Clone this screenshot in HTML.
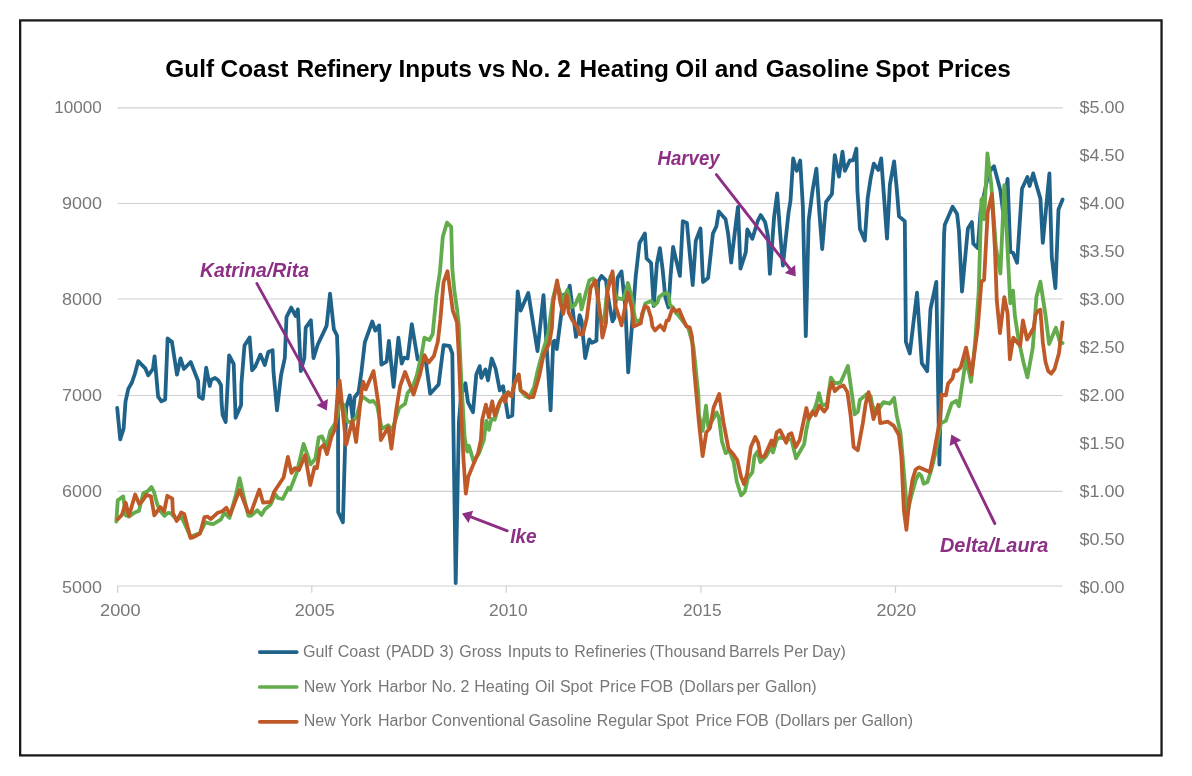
<!DOCTYPE html>
<html lang="en"><head><meta charset="utf-8"><title>Gulf Coast Refinery Inputs vs No. 2 Heating Oil and Gasoline Spot Prices</title>
<style>
html,body{margin:0;padding:0;background:#fff;}
body{width:1192px;height:776px;overflow:hidden;}
svg{display:block;font-family:"Liberation Sans",sans-serif;}
.ax{fill:#787878;font-size:16.6px;}
.lg{fill:#777;font-size:16px;}
.an{fill:#8c2f85;font-size:19.8px;font-weight:bold;font-style:italic;}
.ttl{fill:#000;font-size:24.4px;font-weight:bold;}
.ser{fill:none;stroke-width:3.8;stroke-linejoin:round;stroke-linecap:round;}
</style></head><body>
<svg width="1192" height="776" viewBox="0 0 1192 776">
<rect x="0" y="0" width="1192" height="776" fill="#fff"/>
<rect x="20.15" y="20.4" width="1141.4" height="735.0" fill="none" stroke="#1a1a1a" stroke-width="2.3"/>
<text class="ttl" y="76.6"><tspan x="165.3">Gulf </tspan><tspan x="220.6">Coast </tspan><tspan x="296.5" letter-spacing="-0.3">Refinery </tspan><tspan x="398.6">Inputs </tspan><tspan x="478.3">vs </tspan><tspan x="510.9">No. </tspan><tspan x="557.3">2 </tspan><tspan x="579.5">Heating </tspan><tspan x="675.3">Oil </tspan><tspan x="714.7">and </tspan><tspan x="765.7">Gasoline </tspan><tspan x="875.2">Spot </tspan><tspan x="937.7">Prices</tspan></text>
<line x1="117.6" x2="1062.6" y1="107.95" y2="107.95" stroke="#cfcfcf" stroke-width="1.2"/>
<line x1="117.6" x2="1062.6" y1="203.50" y2="203.50" stroke="#cfcfcf" stroke-width="1.2"/>
<line x1="117.6" x2="1062.6" y1="299.00" y2="299.00" stroke="#cfcfcf" stroke-width="1.2"/>
<line x1="117.6" x2="1062.6" y1="395.50" y2="395.50" stroke="#cfcfcf" stroke-width="1.2"/>
<line x1="117.6" x2="1062.6" y1="491.40" y2="491.40" stroke="#cfcfcf" stroke-width="1.2"/>
<line x1="117.0" x2="1062.6" y1="586.0" y2="586.0" stroke="#cfcfcf" stroke-width="1.2"/>
<line x1="117.7" x2="117.7" y1="586.0" y2="592.8" stroke="#cfcfcf" stroke-width="1.2"/>
<line x1="311.8" x2="311.8" y1="586.0" y2="592.8" stroke="#cfcfcf" stroke-width="1.2"/>
<line x1="506.2" x2="506.2" y1="586.0" y2="592.8" stroke="#cfcfcf" stroke-width="1.2"/>
<line x1="700.9" x2="700.9" y1="586.0" y2="592.8" stroke="#cfcfcf" stroke-width="1.2"/>
<line x1="895.5" x2="895.5" y1="586.0" y2="592.8" stroke="#cfcfcf" stroke-width="1.2"/>
<text class="ax" x="54.3" y="112.8" textLength="47.6" lengthAdjust="spacingAndGlyphs">10000</text>
<text class="ax" x="61.9" y="208.8" textLength="40.0" lengthAdjust="spacingAndGlyphs">9000</text>
<text class="ax" x="61.9" y="304.9" textLength="40.0" lengthAdjust="spacingAndGlyphs">8000</text>
<text class="ax" x="61.9" y="400.9" textLength="40.0" lengthAdjust="spacingAndGlyphs">7000</text>
<text class="ax" x="61.9" y="497.0" textLength="40.0" lengthAdjust="spacingAndGlyphs">6000</text>
<text class="ax" x="61.9" y="593.0" textLength="40.0" lengthAdjust="spacingAndGlyphs">5000</text>
<text class="ax" x="1079.6" y="112.8" textLength="45.0" lengthAdjust="spacingAndGlyphs">$5.00</text>
<text class="ax" x="1079.6" y="160.8" textLength="45.0" lengthAdjust="spacingAndGlyphs">$4.50</text>
<text class="ax" x="1079.6" y="208.8" textLength="45.0" lengthAdjust="spacingAndGlyphs">$4.00</text>
<text class="ax" x="1079.6" y="256.9" textLength="45.0" lengthAdjust="spacingAndGlyphs">$3.50</text>
<text class="ax" x="1079.6" y="304.9" textLength="45.0" lengthAdjust="spacingAndGlyphs">$3.00</text>
<text class="ax" x="1079.6" y="352.9" textLength="45.0" lengthAdjust="spacingAndGlyphs">$2.50</text>
<text class="ax" x="1079.6" y="400.9" textLength="45.0" lengthAdjust="spacingAndGlyphs">$2.00</text>
<text class="ax" x="1079.6" y="448.9" textLength="45.0" lengthAdjust="spacingAndGlyphs">$1.50</text>
<text class="ax" x="1079.6" y="497.0" textLength="45.0" lengthAdjust="spacingAndGlyphs">$1.00</text>
<text class="ax" x="1079.6" y="545.0" textLength="45.0" lengthAdjust="spacingAndGlyphs">$0.50</text>
<text class="ax" x="1079.6" y="593.0" textLength="45.0" lengthAdjust="spacingAndGlyphs">$0.00</text>
<text class="ax" x="100.1" y="616.2" textLength="40.5" lengthAdjust="spacingAndGlyphs">2000</text>
<text class="ax" x="294.7" y="616.2" textLength="40.1" lengthAdjust="spacingAndGlyphs">2005</text>
<text class="ax" x="489.1" y="616.2" textLength="38.5" lengthAdjust="spacingAndGlyphs">2010</text>
<text class="ax" x="683.1" y="616.2" textLength="38.5" lengthAdjust="spacingAndGlyphs">2015</text>
<text class="ax" x="876.5" y="616.2" textLength="39.8" lengthAdjust="spacingAndGlyphs">2020</text>
<path class="ser" stroke="#20638a" d="M117.2 408.0 L120.2 439.3 L123.6 428.6 L125.5 401.7 L128.3 388.9 L131.9 382.5 L135.0 373.3 L138.2 361.2 L145.3 368.3 L148.2 375.4 L152.9 369.0 L154.6 356.3 L158.1 396.7 L161.4 401.4 L165.2 399.5 L167.6 338.5 L171.9 341.8 L177.0 374.7 L180.5 358.4 L183.9 369.0 L190.7 362.0 L198.1 381.0 L198.9 396.5 L202.8 398.8 L206.2 367.6 L209.7 386.0 L211.3 379.8 L215.1 377.9 L218.2 380.3 L221.0 384.9 L221.6 402.7 L222.6 415.0 L225.7 422.0 L229.1 355.5 L233.7 364.0 L235.6 417.8 L241.1 405.0 L241.4 384.1 L244.5 345.5 L249.6 337.4 L252.1 370.3 L255.2 366.8 L260.4 354.6 L264.8 365.0 L268.3 352.0 L272.6 350.3 L273.5 372.0 L277.0 410.3 L281.0 375.5 L284.8 358.1 L286.5 317.2 L291.2 307.6 L295.6 316.0 L297.9 309.4 L300.8 371.1 L304.3 358.1 L305.7 327.6 L310.9 320.3 L313.5 358.1 L317.9 344.2 L326.6 325.9 L330.0 293.7 L333.9 329.4 L337.0 335.5 L337.9 359.8 L338.2 512.1 L342.9 522.3 L346.2 407.4 L349.8 395.4 L352.7 418.5 L354.5 397.5 L358.6 392.0 L361.4 372.0 L364.8 342.4 L372.3 321.5 L375.3 330.6 L379.1 325.4 L381.4 364.7 L386.6 361.6 L388.9 341.0 L393.6 386.8 L398.4 337.6 L401.7 363.6 L404.2 357.7 L407.6 358.5 L411.8 324.2 L417.7 359.4 L420.2 360.2 L426.0 362.7 L430.2 393.7 L438.6 384.5 L443.6 345.1 L449.5 346.0 L452.3 353.5 L455.7 583.0 L458.9 422.2 L461.1 395.4 L465.4 383.3 L467.9 402.1 L473.0 412.2 L476.3 374.5 L479.7 366.1 L481.3 377.8 L485.5 369.4 L488.0 380.3 L491.7 358.5 L495.6 368.6 L499.8 390.4 L503.1 386.2 L508.1 417.2 L512.3 415.5 L517.7 291.3 L520.7 310.6 L528.3 293.0 L537.5 351.0 L543.5 295.2 L550.6 410.3 L553.2 342.0 L554.5 340.7 L556.8 349.1 L563.8 294.6 L565.4 304.9 L569.7 285.6 L576.0 336.9 L579.6 315.2 L581.5 320.4 L585.2 358.1 L589.3 339.4 L591.9 342.7 L596.4 340.7 L598.3 281.7 L601.5 275.9 L606.0 280.4 L608.0 297.2 L612.5 321.4 L614.4 317.8 L617.6 277.8 L621.5 271.4 L625.4 307.5 L628.2 372.3 L631.8 327.8 L635.7 276.5 L639.5 243.0 L644.9 233.4 L646.6 258.5 L651.1 263.0 L653.7 306.2 L656.9 263.7 L659.9 248.2 L662.7 270.1 L665.3 297.2 L668.5 307.5 L670.5 276.5 L673.1 247.0 L676.2 260.4 L679.9 275.8 L682.8 221.2 L686.9 222.9 L692.7 285.1 L695.8 240.8 L700.5 228.5 L703.0 282.0 L708.1 277.9 L712.9 233.6 L716.4 226.4 L718.8 211.4 L725.6 219.2 L728.1 233.6 L731.2 262.5 L735.9 223.3 L738.0 206.8 L740.5 268.6 L745.8 252.2 L747.3 229.5 L752.4 238.8 L757.6 221.2 L760.7 215.1 L765.2 222.3 L767.9 235.7 L769.9 273.8 L774.1 217.1 L777.2 193.4 L780.2 233.6 L782.9 265.5 L788.5 213.0 L790.5 200.6 L793.2 158.4 L796.7 170.8 L800.2 160.5 L802.9 206.8 L805.8 336.1 L808.7 220.2 L812.6 190.3 L816.4 168.6 L819.3 211.5 L822.2 249.2 L826.1 201.9 L831.9 194.1 L834.8 155.1 L839.0 176.7 L842.5 151.6 L844.8 170.9 L849.9 160.3 L853.2 160.3 L856.4 148.7 L857.4 190.3 L859.0 213.5 L859.9 228.9 L864.8 240.5 L867.7 198.0 L870.6 178.7 L873.8 163.6 L878.3 170.0 L881.2 158.4 L884.1 198.0 L887.0 238.6 L889.9 184.5 L894.1 161.3 L896.7 188.3 L899.0 216.4 L904.8 221.2 L905.9 341.9 L909.8 353.5 L917.0 292.6 L921.8 363.1 L927.2 371.2 L930.5 309.0 L936.3 281.9 L939.4 464.5 L944.1 233.8 L944.8 224.8 L952.6 206.8 L957.1 214.0 L958.9 230.2 L962.0 291.6 L967.9 228.4 L971.9 222.1 L973.3 243.7 L977.8 248.2 L980.5 212.2 L988.6 172.5 L994.0 166.2 L1000.4 190.5 L1003.1 212.2 L1007.6 178.8 L1010.3 251.9 L1013.0 252.8 L1017.1 262.7 L1022.0 188.7 L1027.4 177.0 L1029.6 186.0 L1033.2 173.4 L1036.4 185.1 L1040.4 198.6 L1042.8 242.8 L1049.4 173.4 L1051.8 257.3 L1055.4 288.0 L1058.5 209.5 L1062.6 199.5"/>
<path class="ser" stroke="#62ac4b" d="M116.3 521.6 L117.8 500.2 L123.2 496.4 L125.7 515.3 L128.9 516.6 L135.2 512.2 L138.9 510.9 L143.3 493.3 L147.8 491.1 L151.5 487.0 L154.0 492.0 L157.2 504.0 L159.7 510.3 L164.4 515.9 L167.9 512.8 L171.0 513.4 L176.7 519.7 L181.7 517.2 L190.5 536.7 L200.0 532.9 L205.6 522.2 L209.4 523.5 L213.2 524.1 L220.7 519.7 L224.5 512.8 L229.5 517.8 L235.8 495.2 L239.6 478.2 L243.4 495.2 L248.4 515.9 L250.9 515.9 L257.2 510.3 L261.6 514.9 L264.9 509.3 L270.6 504.6 L275.2 494.3 L278.0 498.0 L282.7 499.0 L288.3 487.8 L290.2 489.6 L296.7 472.8 L303.6 443.9 L310.7 464.4 L315.4 458.8 L318.8 437.3 L321.9 436.4 L326.6 446.7 L330.3 430.8 L335.9 422.4 L339.3 405.6 L343.4 404.6 L347.2 421.4 L351.8 422.4 L356.5 416.8 L362.1 396.2 L369.6 401.8 L373.3 400.9 L377.1 405.6 L381.7 428.9 L388.3 425.2 L392.0 430.8 L399.2 408.0 L405.1 403.8 L407.6 392.9 L412.6 387.0 L416.8 375.3 L421.8 353.5 L424.4 337.6 L429.4 340.1 L432.7 334.0 L436.6 293.8 L439.9 272.0 L442.8 236.8 L447.0 222.6 L451.2 226.8 L452.3 268.7 L454.5 292.1 L457.0 308.9 L458.7 324.0 L461.2 378.7 L464.6 437.3 L466.3 447.4 L467.3 451.6 L468.9 445.8 L473.5 461.3 L478.9 453.5 L483.8 440.0 L486.4 420.6 L488.9 429.8 L491.4 418.9 L494.7 419.7 L500.6 400.4 L504.3 395.7 L508.1 392.4 L511.5 396.4 L514.9 382.3 L518.7 374.8 L520.7 390.4 L525.7 396.3 L529.1 397.9 L534.1 387.0 L537.7 370.4 L542.9 351.0 L548.0 334.3 L550.6 314.9 L553.2 297.2 L557.1 283.0 L562.9 302.3 L564.1 297.2 L567.4 290.1 L571.2 307.5 L575.1 304.9 L579.6 294.6 L581.5 309.4 L585.4 294.6 L589.3 280.4 L593.1 278.5 L595.7 281.7 L600.2 315.2 L602.2 322.7 L604.1 320.1 L607.3 289.4 L610.5 276.5 L612.5 274.0 L615.1 294.6 L618.3 298.5 L622.8 299.1 L625.4 293.3 L627.9 283.0 L631.8 297.2 L634.4 315.2 L635.7 321.0 L640.8 320.4 L642.8 313.9 L645.3 303.6 L651.1 301.0 L654.4 305.5 L657.6 302.3 L658.9 297.2 L664.0 293.3 L668.5 293.9 L669.8 304.9 L673.0 307.5 L675.7 312.7 L678.5 315.5 L688.4 328.3 L693.4 346.7 L698.4 394.9 L698.9 414.6 L702.6 430.9 L706.0 405.7 L708.2 426.5 L712.2 420.6 L716.7 412.4 L718.9 417.6 L721.9 441.3 L725.6 453.2 L729.3 450.2 L733.7 462.1 L736.7 481.3 L741.1 495.4 L744.8 491.7 L747.8 478.4 L752.3 472.4 L754.5 456.1 L757.4 451.7 L760.4 462.1 L766.3 456.1 L770.8 447.2 L773.0 452.4 L776.7 439.8 L779.7 437.6 L791.5 439.8 L796.0 458.4 L804.1 444.3 L806.4 429.5 L808.7 419.2 L813.5 411.5 L816.4 403.7 L818.9 393.1 L822.2 405.7 L827.1 403.7 L830.9 377.6 L834.8 383.4 L840.6 382.5 L847.9 366.0 L852.2 396.0 L854.7 414.4 L858.0 411.5 L859.9 399.9 L866.7 394.1 L870.6 396.0 L872.5 405.7 L876.4 413.4 L882.2 403.7 L883.5 402.2 L889.9 403.7 L894.1 397.9 L896.7 415.3 L900.6 433.5 L904.7 482.1 L907.3 513.9 L910.6 498.8 L915.6 480.4 L919.0 473.7 L921.5 476.2 L923.7 483.7 L927.4 482.1 L931.6 468.7 L935.7 451.9 L940.8 423.4 L945.8 420.9 L951.6 403.5 L956.2 400.8 L958.9 406.2 L966.1 358.4 L971.1 381.9 L975.1 342.2 L978.7 291.6 L981.4 199.5 L983.2 197.7 L984.1 219.4 L987.4 153.5 L991.3 185.1 L995.8 246.4 L1000.4 273.5 L1004.3 185.1 L1010.3 303.4 L1013.0 290.7 L1014.8 315.1 L1018.4 338.6 L1023.8 363.8 L1027.4 377.3 L1032.8 347.6 L1036.4 297.1 L1040.4 281.7 L1045.5 315.1 L1049.1 344.0 L1055.9 327.7 L1059.9 342.2 L1062.6 343.1"/>
<path class="ser" stroke="#bf5a28" d="M117.8 519.1 L122.0 514.7 L125.7 502.7 L128.9 515.9 L135.2 494.5 L139.2 504.0 L142.5 500.8 L146.5 494.9 L150.9 496.2 L154.3 515.3 L160.3 507.1 L164.1 511.5 L167.3 495.8 L172.3 498.7 L172.9 512.8 L176.7 521.0 L181.1 512.5 L184.2 514.0 L190.5 538.0 L193.1 537.3 L200.0 533.5 L204.4 517.2 L207.5 516.6 L210.7 519.1 L217.6 512.8 L222.0 511.5 L226.4 507.8 L230.2 514.7 L235.8 499.6 L239.6 490.1 L247.8 511.5 L250.9 512.8 L259.3 489.6 L263.1 502.7 L270.6 501.8 L274.3 491.5 L283.6 477.5 L287.9 456.9 L291.5 472.8 L294.8 468.1 L299.0 470.0 L305.1 455.1 L310.2 485.0 L314.5 467.2 L316.9 468.1 L320.1 448.5 L323.8 444.8 L327.0 454.1 L331.3 437.3 L335.0 428.9 L337.8 390.6 L339.6 380.7 L346.2 444.8 L352.4 420.5 L356.1 442.0 L361.5 392.0 L363.1 381.6 L365.7 389.4 L373.5 371.1 L378.8 406.8 L380.8 440.1 L388.3 427.0 L391.4 448.5 L396.5 408.0 L400.1 386.2 L405.1 372.0 L413.5 394.6 L420.2 373.6 L424.4 355.2 L428.5 362.7 L433.9 356.0 L437.8 341.8 L440.3 320.0 L443.6 282.1 L447.5 271.2 L451.2 298.8 L452.8 310.6 L457.0 322.3 L458.7 353.5 L461.2 413.8 L463.5 459.3 L465.8 493.7 L468.3 476.7 L473.1 465.1 L478.0 453.5 L480.9 440.0 L482.2 419.7 L485.9 404.6 L488.9 417.2 L492.2 401.3 L494.7 415.5 L498.9 403.8 L504.0 395.4 L504.8 402.1 L508.1 392.1 L511.5 396.3 L514.9 382.0 L518.7 374.5 L520.7 390.4 L525.7 393.7 L529.1 397.1 L533.3 397.1 L539.0 376.8 L543.5 354.9 L549.3 343.3 L551.9 327.8 L553.2 302.3 L557.1 280.4 L560.3 302.3 L563.2 313.9 L566.7 295.2 L568.7 312.6 L572.5 320.4 L577.7 327.8 L579.6 334.3 L582.8 334.3 L586.7 318.8 L590.6 288.1 L595.1 280.4 L597.0 292.0 L600.2 313.9 L602.4 337.5 L606.0 322.7 L607.3 292.0 L612.5 271.4 L615.1 304.9 L620.2 320.4 L621.5 325.3 L627.9 292.7 L631.8 307.5 L633.7 326.5 L640.8 323.3 L642.1 313.9 L644.7 306.2 L647.9 307.5 L651.1 317.8 L652.4 326.5 L655.0 330.4 L660.2 325.3 L664.0 330.2 L666.6 320.7 L668.5 320.4 L671.8 310.1 L673.1 308.4 L675.7 311.3 L679.2 309.8 L682.1 316.9 L686.3 326.2 L689.8 327.6 L692.0 336.8 L694.1 369.4 L698.9 422.1 L702.6 456.1 L706.3 432.4 L710.0 428.0 L713.7 407.2 L719.2 393.9 L723.4 422.1 L728.5 448.7 L733.7 454.7 L737.4 460.6 L741.1 476.9 L744.1 484.3 L747.1 473.9 L750.8 447.2 L755.2 436.9 L758.2 442.8 L760.4 456.1 L764.1 456.9 L767.8 448.7 L771.5 440.6 L773.7 445.8 L776.7 432.4 L780.0 430.2 L786.3 442.8 L788.6 434.7 L791.5 433.2 L795.7 447.2 L799.7 439.8 L803.4 422.1 L806.4 408.0 L808.7 419.2 L812.6 411.5 L815.5 415.3 L819.3 405.7 L824.2 411.5 L827.1 407.6 L829.0 392.1 L831.9 382.5 L834.8 391.2 L838.7 387.3 L843.5 385.4 L847.4 392.1 L850.6 415.3 L853.6 446.9 L857.8 450.2 L862.8 423.4 L865.7 403.7 L868.6 392.1 L873.5 419.2 L878.3 404.7 L880.2 423.1 L888.0 421.7 L893.8 425.9 L898.9 435.1 L901.4 456.9 L903.9 510.6 L906.4 529.8 L908.9 503.8 L912.3 480.4 L915.6 469.5 L919.0 467.3 L924.0 469.5 L929.9 472.0 L934.1 451.9 L939.9 420.1 L941.7 394.5 L945.9 395.4 L948.0 383.7 L952.6 378.2 L954.4 370.1 L957.1 371.0 L960.7 367.4 L966.1 347.6 L971.5 374.6 L977.8 327.7 L981.4 281.7 L984.1 279.9 L987.7 212.2 L991.9 194.1 L994.9 248.2 L996.8 300.7 L1000.0 333.1 L1004.3 297.1 L1007.6 313.3 L1009.9 359.3 L1013.3 337.7 L1020.2 345.8 L1022.9 320.5 L1027.1 339.5 L1033.7 327.7 L1035.5 315.1 L1037.3 311.5 L1040.4 309.7 L1042.8 342.2 L1045.5 362.0 L1048.2 371.0 L1051.2 373.7 L1054.5 369.2 L1059.0 353.0 L1062.6 322.3"/>
<line x1="256.8" y1="283.4" x2="322.2" y2="402.1" stroke="#8c2f85" stroke-width="2.9" stroke-linecap="round"/><polygon points="326.8,410.4 316.5,405.2 327.9,398.9" fill="#8c2f85"/>
<line x1="716.4" y1="174.6" x2="790.0" y2="269.0" stroke="#8c2f85" stroke-width="2.9" stroke-linecap="round"/><polygon points="795.8,276.5 784.8,273.0 795.1,265.0" fill="#8c2f85"/>
<line x1="507.3" y1="530.8" x2="470.9" y2="516.8" stroke="#8c2f85" stroke-width="2.9" stroke-linecap="round"/><polygon points="462.0,513.4 473.2,510.7 468.5,522.9" fill="#8c2f85"/>
<line x1="994.8" y1="523.5" x2="955.5" y2="443.1" stroke="#8c2f85" stroke-width="2.9" stroke-linecap="round"/><polygon points="951.3,434.6 961.3,440.3 949.6,446.0" fill="#8c2f85"/>
<text class="an" x="200.0" y="276.7" textLength="109.0" lengthAdjust="spacingAndGlyphs">Katrina/Rita</text>
<text class="an" x="657.6" y="164.8" textLength="62.0" lengthAdjust="spacingAndGlyphs">Harvey</text>
<text class="an" x="510.2" y="542.6" textLength="26.4" lengthAdjust="spacingAndGlyphs">Ike</text>
<text class="an" x="940.0" y="551.8" textLength="108.4" lengthAdjust="spacingAndGlyphs">Delta/Laura</text>
<line x1="259.75" x2="296.75" y1="652.1" y2="652.1" stroke="#20638a" stroke-width="3.7" stroke-linecap="round"/>
<text class="lg" y="657.0"><tspan x="303.1">Gulf </tspan><tspan x="337.8">Coast </tspan><tspan x="385.7">(PADD </tspan><tspan x="439.6">3) </tspan><tspan x="459.2">Gross </tspan><tspan x="507.8">Inputs </tspan><tspan x="555.3">to </tspan><tspan x="574.3">Refineries </tspan><tspan x="649.4">(Thousand </tspan><tspan x="728.9">Barrels </tspan><tspan x="783.5">Per </tspan><tspan x="812.0">Day)</tspan></text>
<line x1="259.75" x2="296.75" y1="687.0" y2="687.0" stroke="#62ac4b" stroke-width="3.7" stroke-linecap="round"/>
<text class="lg" y="691.6"><tspan x="303.8">New </tspan><tspan x="340.0">York </tspan><tspan x="378.0">Harbor </tspan><tspan x="431.5">No. </tspan><tspan x="460.5">2 </tspan><tspan x="474.3">Heating </tspan><tspan x="535.0">Oil </tspan><tspan x="559.9">Spot </tspan><tspan x="599.6">Price </tspan><tspan x="640.2">FOB </tspan><tspan x="679.0">(Dollars </tspan><tspan x="736.8">per </tspan><tspan x="765.1">Gallon)</tspan></text>
<line x1="259.75" x2="296.75" y1="721.8" y2="721.8" stroke="#bf5a28" stroke-width="3.7" stroke-linecap="round"/>
<text class="lg" y="726.2"><tspan x="303.8">New </tspan><tspan x="340.0">York </tspan><tspan x="378.0">Harbor </tspan><tspan x="431.5">Conventional </tspan><tspan x="528.5">Gasoline </tspan><tspan x="596.8">Regular </tspan><tspan x="655.9">Spot </tspan><tspan x="695.6">Price </tspan><tspan x="735.9">FOB </tspan><tspan x="774.7">(Dollars </tspan><tspan x="833.7">per </tspan><tspan x="861.4">Gallon)</tspan></text>
</svg></body></html>
